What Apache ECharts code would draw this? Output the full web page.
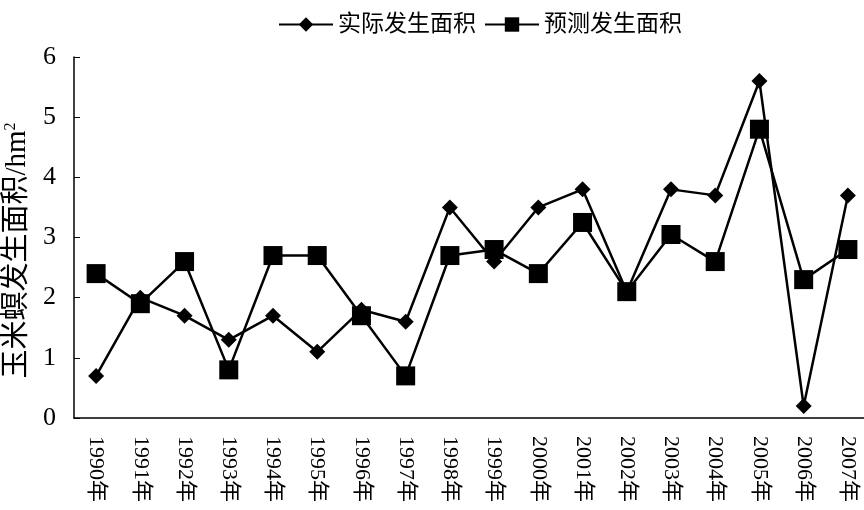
<!DOCTYPE html>
<html>
<head>
<meta charset="utf-8">
<script src="https://cdn.jsdelivr.net/npm/echarts@6/dist/echarts.min.js"></script>
<style>
  html, body { margin: 0; padding: 0; background: #fff; }
  #chart { width: 864px; height: 510px; }
</style>
</head>
<body>
<div id="chart"></div>
<script>
// Years on the category axis
const years = ['1990年','1991年','1992年','1993年','1994年','1995年','1996年','1997年','1998年',
               '1999年','2000年','2001年','2002年','2003年','2004年','2005年','2006年','2007年'];
// Actual occurrence area
const actualArea = [0.7, 2.0, 1.7, 1.3, 1.7, 1.1, 1.8, 1.6, 3.5, 2.6, 3.5, 3.8, 2.1, 3.8, 3.7, 5.6, 0.2, 3.7];
// Predicted occurrence area
const predictedArea = [2.4, 1.9, 2.6, 0.8, 2.7, 2.7, 1.7, 0.7, 2.7, 2.8, 2.4, 3.25, 2.1, 3.05, 2.6, 4.8, 2.3, 2.8];
const seriesNames = ['实际发生面积', '预测发生面积'];
const yTicks = { min: 0, max: 6, interval: 1 };

const FONT = '"Liberation Serif", "Noto Sans CJK SC", serif';

const chart = echarts.init(document.getElementById('chart'), null, { renderer: 'canvas' });
chart.setOption({
  animation: false,
  backgroundColor: '#fff',
  legend: {
    top: 8,
    left: 273,
    itemWidth: 54,
    itemHeight: 18,
    itemGap: 8,
    textStyle: { fontFamily: FONT, fontSize: 23, color: '#000' },
    data: seriesNames
  },
  grid: { left: 74, top: 57, bottom: 92, width: 796, containLabel: false, outerBoundsMode: 'none' },
  xAxis: {
    type: 'category',
    data: years,
    boundaryGap: true,
    axisLine: { lineStyle: { color: '#000', width: 1.5 } },
    axisTick: { inside: true, length: 7, lineStyle: { color: '#000', width: 1 } },
    axisLabel: {
      rotate: -90,
      margin: 18,
      fontFamily: FONT,
      fontSize: 22,
      color: '#000'
    },
    splitLine: { show: false }
  },
  yAxis: {
    type: 'value',
    min: yTicks.min,
    max: yTicks.max,
    interval: yTicks.interval,
    name: '{a|玉米螟发生面积/hm}{sup|2}',
    nameLocation: 'middle',
    nameGap: 38,
    nameRotate: 90,
    nameTextStyle: {
      padding: [0, 26, 0, 0],
      rich: {
        a: { fontFamily: FONT, fontSize: 29, color: '#000' },
        sup: { fontFamily: FONT, fontSize: 16, color: '#000', verticalAlign: 'top', padding: [0, 0, 14, 0] }
      }
    },
    axisLine: { show: true, lineStyle: { color: '#000', width: 1.5 } },
    axisTick: { show: true, inside: true, length: 6, lineStyle: { color: '#000', width: 1 } },
    axisLabel: { margin: 18, fontFamily: FONT, fontSize: 26, color: '#000' },
    splitLine: { show: false }
  },
  series: [
    {
      name: seriesNames[0],
      type: 'line',
      data: actualArea,
      symbol: 'diamond',
      symbolSize: 16,
      lineStyle: { color: '#000', width: 2.5 },
      itemStyle: { color: '#000' }
    },
    {
      name: seriesNames[1],
      type: 'line',
      data: predictedArea,
      symbol: 'rect',
      symbolSize: 19,
      lineStyle: { color: '#000', width: 2.5 },
      itemStyle: { color: '#000' }
    }
  ]
});
</script>
</body>
</html>
